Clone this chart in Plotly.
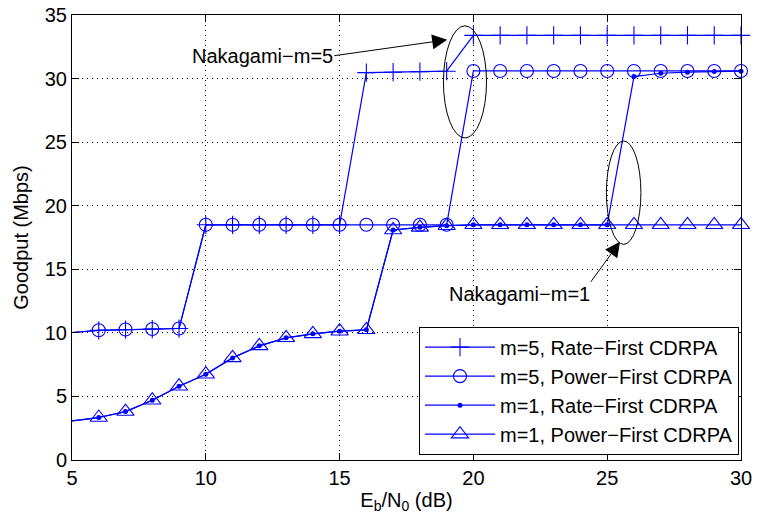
import plotly.graph_objects as go

# ---------------- data ----------------
ebn0 = [5, 6, 7, 8, 9, 10, 11, 12, 13, 14, 15, 16, 17, 18, 19, 20, 21, 22, 23, 24, 25, 26, 27, 28, 29, 30]

m5_rate_first = [10.03, 10.20, 10.26, 10.30, 10.34, 18.5, 18.5, 18.5, 18.5, 18.5, 18.5,
                 30.47, 30.50, 30.55, 30.58, 33.4, 33.4, 33.4, 33.4, 33.4, 33.4, 33.4, 33.4, 33.4, 33.4, 33.4]
m5_power_first = [10.03, 10.20, 10.26, 10.30, 10.34, 18.5, 18.5, 18.5, 18.5, 18.5, 18.5,
                  18.5, 18.5, 18.5, 18.5, 30.6, 30.6, 30.6, 30.6, 30.6, 30.6, 30.6, 30.6, 30.6, 30.6, 30.6]
m1_rate_first = [3.07, 3.34, 3.81, 4.70, 5.80, 6.75, 8.03, 8.98, 9.61, 9.92, 10.13, 10.24,
                 18.09, 18.30, 18.43, 18.5, 18.5, 18.5, 18.5, 18.5, 18.5, 30.16, 30.42, 30.50, 30.55, 30.58]
m1_power_first = [3.07, 3.34, 3.81, 4.70, 5.80, 6.75, 8.03, 8.98, 9.61, 9.92, 10.13, 10.24,
                  18.09, 18.30, 18.43, 18.5, 18.5, 18.5, 18.5, 18.5, 18.5, 18.5, 18.5, 18.5, 18.5, 18.5]

series_names = ["m=5, Rate\u2212First CDRPA", "m=5, Power\u2212First CDRPA",
                "m=1, Rate\u2212First CDRPA", "m=1, Power\u2212First CDRPA"]
series_values = [m5_rate_first, m5_power_first, m1_rate_first, m1_power_first]

x_ticks = [5, 10, 15, 20, 25, 30]
y_ticks = [0, 5, 10, 15, 20, 25, 30, 35]

# ---------------- style ----------------
BLUE = "#0000FF"
FONT = "Liberation Sans, Arial, Helvetica, sans-serif"
FS = 20
marker_styles = [
    dict(symbol="cross-thin-open", size=13, color=BLUE, line=dict(color=BLUE, width=1.1)),
    dict(symbol="circle-open", size=13, color=BLUE, line=dict(color=BLUE, width=1.1)),
    dict(symbol="circle", size=5, color=BLUE, line=dict(color=BLUE, width=0)),
    dict(symbol="triangle-up-open", size=15, color=BLUE, line=dict(color=BLUE, width=1.1)),
]

fig = go.Figure()
for name, vals, mk in zip(series_names, series_values, marker_styles):
    # first segment without marker (markers start at 6 dB)
    fig.add_trace(go.Scatter(x=ebn0[:2], y=vals[:2], mode="lines",
                             line=dict(color=BLUE, width=1.2), showlegend=False,
                             hoverinfo="skip", cliponaxis=False))
    fig.add_trace(go.Scatter(x=ebn0[1:], y=vals[1:], mode="lines+markers", name=name,
                             line=dict(color=BLUE, width=1.2), marker=mk, cliponaxis=False))

axis_common = dict(showline=True, linecolor="black", linewidth=1, mirror="ticks",
                   ticks="inside", ticklen=7, tickcolor="black", tickwidth=1,
                   showgrid=True, gridcolor="black", gridwidth=1, griddash="1px,4px",
                   zeroline=False, automargin=False,
                   tickfont=dict(family=FONT, size=FS, color="black"))

fig.update_xaxes(range=[5, 30], tickvals=x_ticks, **axis_common,
                 title=dict(text="E<sub>b</sub>/N<sub>0</sub> (dB)",
                            font=dict(family=FONT, size=FS, color="black"), standoff=4))
fig.update_yaxes(range=[0, 35], tickvals=y_ticks, **axis_common,
                 title=dict(text="Goodput (Mbps)",
                            font=dict(family=FONT, size=FS, color="black"), standoff=10))

# ellipses
fig.add_shape(type="circle", xref="x", yref="y", x0=18.88, x1=20.49, y0=25.33, y1=34.15,
              line=dict(color="black", width=1))
fig.add_shape(type="circle", xref="x", yref="y", x0=24.97, x1=26.26, y0=16.96, y1=25.09,
              line=dict(color="black", width=1))

# labels with arrows (text box placed at the arrow tail)
fig.add_annotation(x=19.02, y=33.05, ax=14.80, ay=31.80, xref="x", yref="y", axref="x", ayref="y",
                   text="Nakagami\u2212m=5", xanchor="right", yanchor="middle",
                   showarrow=True, arrowhead=2, arrowsize=3, arrowwidth=1, arrowcolor="black",
                   borderpad=0, font=dict(family=FONT, size=FS, color="black"))
fig.add_annotation(x=25.48, y=17.17, ax=24.39, ay=14.02, xref="x", yref="y", axref="x", ayref="y",
                   text="Nakagami\u2212m=1", xanchor="right", yanchor="top",
                   showarrow=True, arrowhead=2, arrowsize=3, arrowwidth=1, arrowcolor="black",
                   borderpad=0, font=dict(family=FONT, size=FS, color="black"))

fig.update_layout(
    width=758, height=525,
    margin=dict(l=72, r=17, t=15, b=65),
    paper_bgcolor="white", plot_bgcolor="white",
    font=dict(family=FONT, size=FS, color="black"),
    showlegend=True,
    legend=dict(x=0.997, y=0.012, xanchor="right", yanchor="bottom",
                bgcolor="white", bordercolor="black", borderwidth=1,
                font=dict(family=FONT, size=FS, color="black"),
                itemwidth=70, tracegroupgap=0),
)

fig.write_html("out.html")
